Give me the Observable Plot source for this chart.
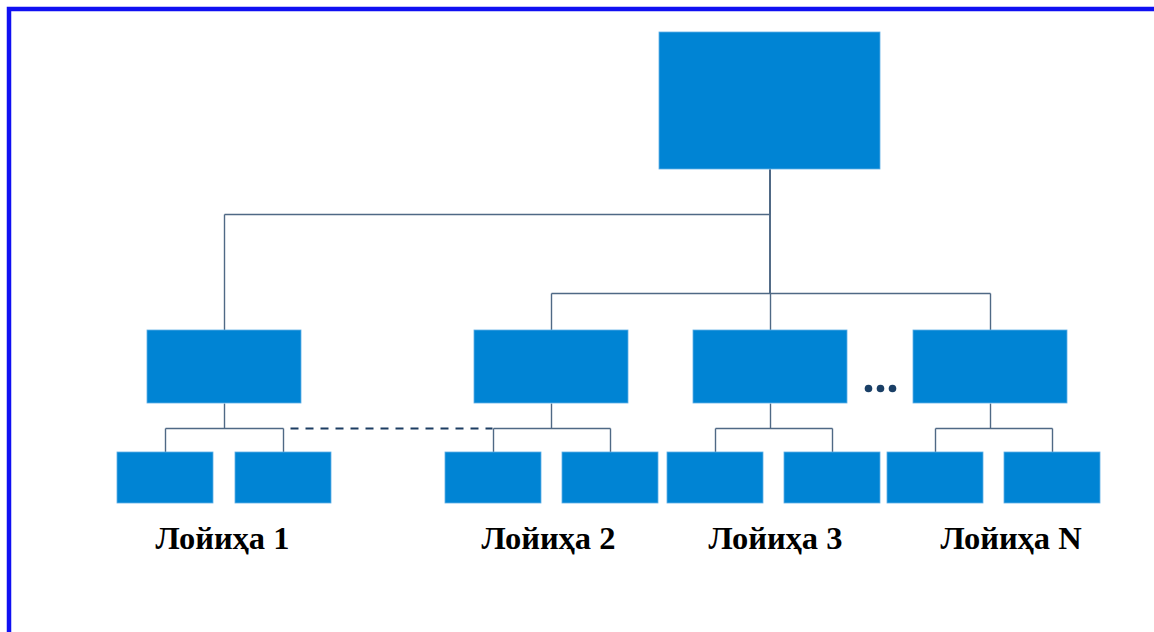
<!DOCTYPE html>
<html>
<head>
<meta charset="utf-8">
<script src="https://cdn.jsdelivr.net/npm/d3@7"></script>
<script src="https://cdn.jsdelivr.net/npm/@observablehq/plot@0.6"></script>
<style>
  html, body { margin: 0; padding: 0; background: #fff; }
  #chart svg { display: block; }
</style>
</head>
<body>
<div id="chart"></div>
<script>
// ---- Diagram data (layout units = pixels of the 1154x632 canvas) ----
const rootBox = {x1: 659, x2: 880, y1: 32, y2: 169};
const midLefts = [147, 474, 693, 913];
const midWidth = 154;
const midTop = 330, midBottom = 403;
const rootBusY = [214, 293, 293, 293];
const leafLefts = [[117, 235], [445, 562], [667, 784], [887, 1004]];
const leafWidth = 96;
const leafTop = 452, leafBottom = 503;
const childBusY = 428;
const projectLabels = ["Лойиҳа 1", "Лойиҳа 2", "Лойиҳа 3", "Лойиҳа N"];
const labelLefts = [155, 481, 708, 940];
const labelY = 538;
const dashedLink = {x1: 290, x2: 492, y: 428};
const ellipsisX = [868, 880, 892];
const ellipsisY = 388;

// ---- Build tables ----
const mids = midLefts.map((l, i) => ({x1: l, x2: l + midWidth, y1: midTop, y2: midBottom, i}));
const leaves = leafLefts.flatMap((pair, g) => pair.map(l => ({x1: l, x2: l + leafWidth, y1: leafTop, y2: leafBottom, g})));
const boxes = [rootBox, ...mids, ...leaves];
const cx = b => (b.x1 + b.x2) / 2;

const segs = [];
// root -> mid connectors
const rc = cx(rootBox);
mids.forEach((m, i) => {
  const y = rootBusY[i];
  segs.push({x1: rc, y1: rootBox.y2, x2: rc, y2: y});
  segs.push({x1: rc, y1: y, x2: cx(m), y2: y});
  segs.push({x1: cx(m), y1: y, x2: cx(m), y2: m.y1});
});
// mid -> leaf connectors
mids.forEach((m, g) => {
  const kids = leaves.filter(l => l.g === g);
  segs.push({x1: cx(m), y1: m.y2, x2: cx(m), y2: childBusY});
  segs.push({x1: cx(kids[0]), y1: childBusY, x2: cx(kids[kids.length - 1]), y2: childBusY});
  kids.forEach(k => segs.push({x1: cx(k), y1: childBusY, x2: cx(k), y2: k.y1}));
});

const labels = projectLabels.map((t, i) => ({t, x: labelLefts[i], y: labelY}));
const dots = ellipsisX.map(x => ({x, y: ellipsisY}));

const chart = Plot.plot({
  width: 1154,
  height: 632,
  margin: 0,
  x: {domain: [0, 1154], range: [0, 1154], axis: null},
  y: {domain: [0, 632], range: [0, 632], axis: null},
  style: {background: "#ffffff"},
  marks: [
    Plot.link(segs, {x1: "x1", y1: "y1", x2: "x2", y2: "y2", stroke: "#4f6985", strokeWidth: 1.4}),
    Plot.link([dashedLink], {x1: "x1", x2: "x2", y1: "y", y2: "y", stroke: "#1c3d62", strokeWidth: 2.2, strokeDasharray: "8,7"}),
    Plot.rect(boxes, {x1: "x1", x2: "x2", y1: "y1", y2: "y2", fill: "#0084d4", stroke: "#5fb0e6", strokeWidth: 0.8}),
    Plot.dot(dots, {x: "x", y: "y", r: 3.8, fill: "#1a3f66", stroke: "none"}),
    Plot.text(labels, {x: "x", y: "y", text: "t", textAnchor: "start", fontFamily: "Liberation Serif", fontWeight: "bold", fontSize: 32.5, fill: "#000"}),
    Plot.rect([{x1: 9, x2: 1170, y1: 9, y2: 650}], {x1: "x1", x2: "x2", y1: "y1", y2: "y2", fill: "none", stroke: "#1010f2", strokeWidth: 4.5})
  ]
});
document.getElementById("chart").appendChild(chart);
</script>
</body>
</html>
